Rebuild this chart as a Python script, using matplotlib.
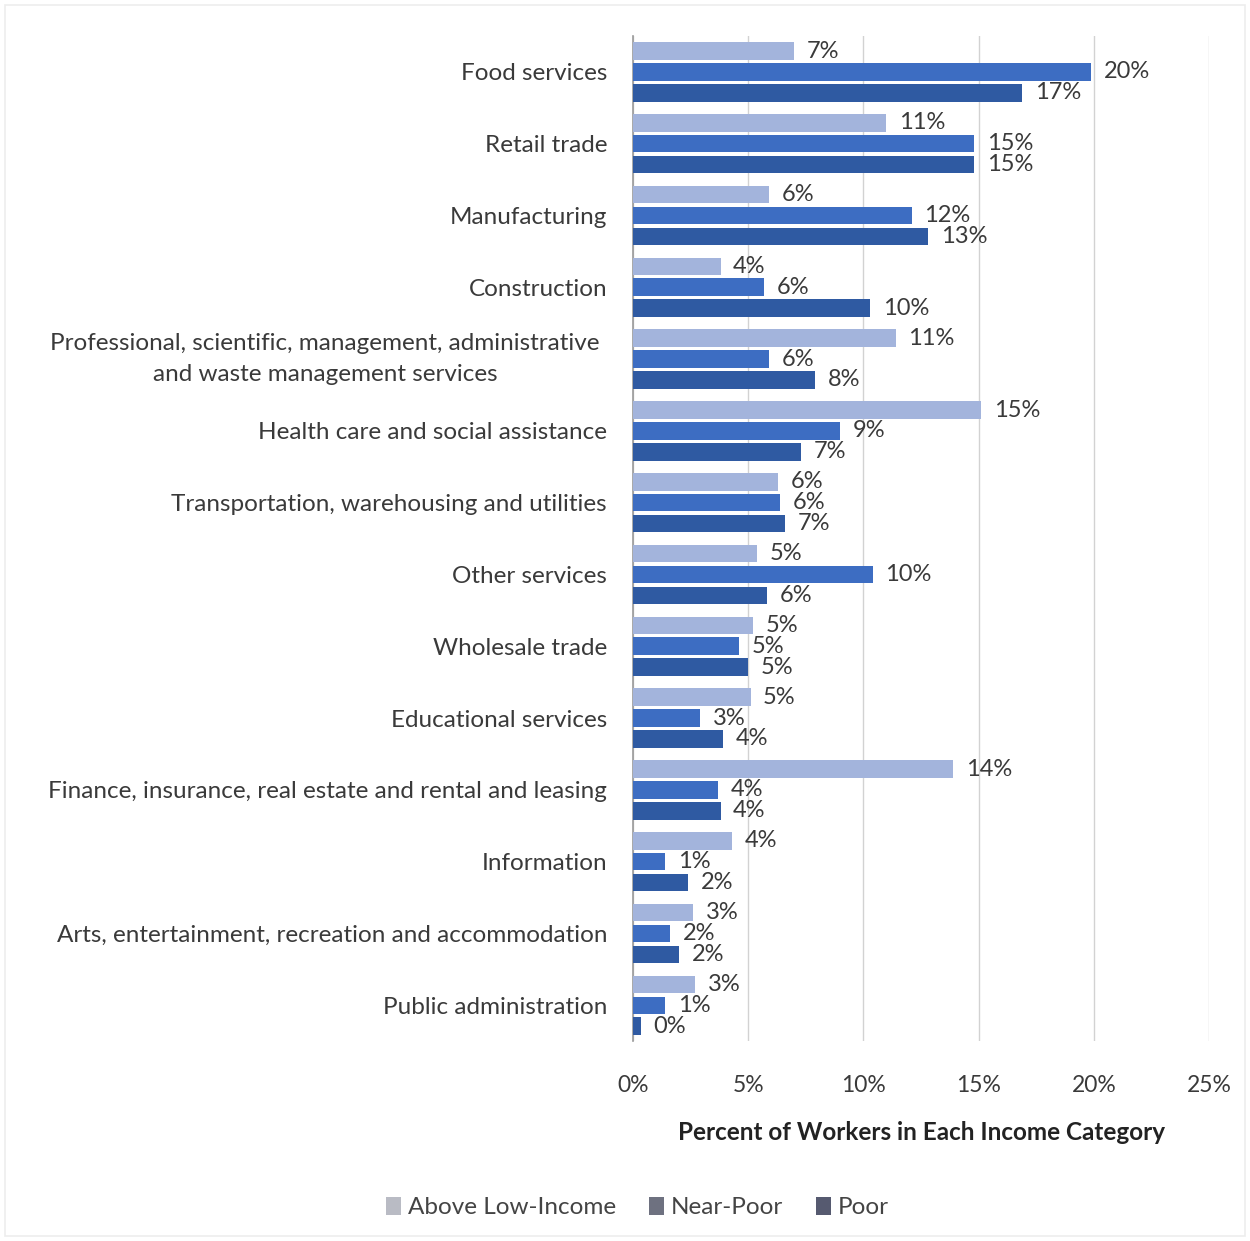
import numpy as np
import matplotlib.pyplot as plt
from matplotlib.patches import Patch, Rectangle

plt.rcParams['font.family'] = ['Lato', 'DejaVu Sans']

industries = [
    "Food services",
    "Retail trade",
    "Manufacturing",
    "Construction",
    "Professional, scientific, management, administrative\nand waste management services",
    "Health care and social assistance",
    "Transportation, warehousing and utilities",
    "Other services",
    "Wholesale trade",
    "Educational services",
    "Finance, insurance, real estate and rental and leasing",
    "Information",
    "Arts, entertainment, recreation and accommodation",
    "Public administration",
]
above_low = [7.0, 11.0, 5.9, 3.8, 11.4, 15.1, 6.3, 5.4, 5.2, 5.1, 13.9, 4.3, 2.6, 2.7]
near_poor = [19.9, 14.8, 12.1, 5.7, 5.9, 9.0, 6.4, 10.4, 4.6, 2.9, 3.7, 1.4, 1.6, 1.4]
poor = [16.9, 14.8, 12.8, 10.3, 7.9, 7.3, 6.6, 5.8, 5.0, 3.9, 3.8, 2.4, 2.0, 0.35]

series = ["Above Low-Income", "Near-Poor", "Poor"]
bar_colors = ["#A3B4DC", "#3D6DC2", "#2F5AA2"]
legend_colors = ["#B9BBC4", "#6E7180", "#565A70"]
text_color = "#3A3A3A"

fig = plt.figure(figsize=(12.5, 12.41), dpi=100)
ax = fig.add_axes([0.5064, 0.161, 0.4608, 0.81])

y = np.arange(len(industries))
step = 0.29
height = 0.245
for k, vals in enumerate([above_low, near_poor, poor]):
    pos = y + (k - 1) * step
    ax.barh(pos, vals, height=height, color=bar_colors[k], zorder=3)
    for p, v in zip(pos, vals):
        ax.text(v + 0.55, p, f"{v:.0f}%", va="center", ha="left",
                fontsize=17, color=text_color, zorder=4)

ax.set_ylim(len(industries) - 0.5, -0.5)
ax.set_xlim(0, 25)
ax.set_xticks(np.arange(0, 26, 5))
ax.set_xticklabels([f"{t}%" for t in range(0, 26, 5)], fontsize=16.5, color=text_color)
ax.set_yticks(y)
ax.set_yticklabels(industries, fontsize=17.5, color=text_color)
ax.tick_params(axis="y", length=0, pad=0)
ax.tick_params(axis="x", length=0, pad=24)
for lbl in ax.get_yticklabels():
    if "\n" in lbl.get_text():
        # two-line label is centred under itself
        lbl.set_ha("center")
        lbl.set_va("center")
        lbl.set_multialignment("center")
        lbl.set_linespacing(1.6)
        lbl.set_x(-0.535)
    else:
        lbl.set_ha("right")
        lbl.set_x(-0.045)

ax.grid(axis="x", color="#D2D2D2", linewidth=1.0, zorder=0)
for side in ["top", "right", "bottom"]:
    ax.spines[side].set_visible(False)
ax.spines["left"].set_color("#9A9A9A")
ax.spines["left"].set_linewidth(1.2)

ax.set_xlabel("Percent of Workers in Each Income Category", fontsize=17.5,
              fontweight="bold", color="#222222", labelpad=18)

handles = [Patch(facecolor=c, edgecolor="none") for c in legend_colors]
fig.legend(handles, series, loc="center", bbox_to_anchor=(0.51, 0.027), ncol=3,
           frameon=False, fontsize=17.5, handlelength=0.6, handleheight=0.8,
           handletextpad=0.3, columnspacing=1.35, labelcolor="#444444")

fig.patches.append(Rectangle((0.004, 0.004), 0.992, 0.992, transform=fig.transFigure,
                             fill=False, edgecolor="#EDEDED", linewidth=1.2))

fig.savefig("out.png", dpi=100, facecolor="white")
